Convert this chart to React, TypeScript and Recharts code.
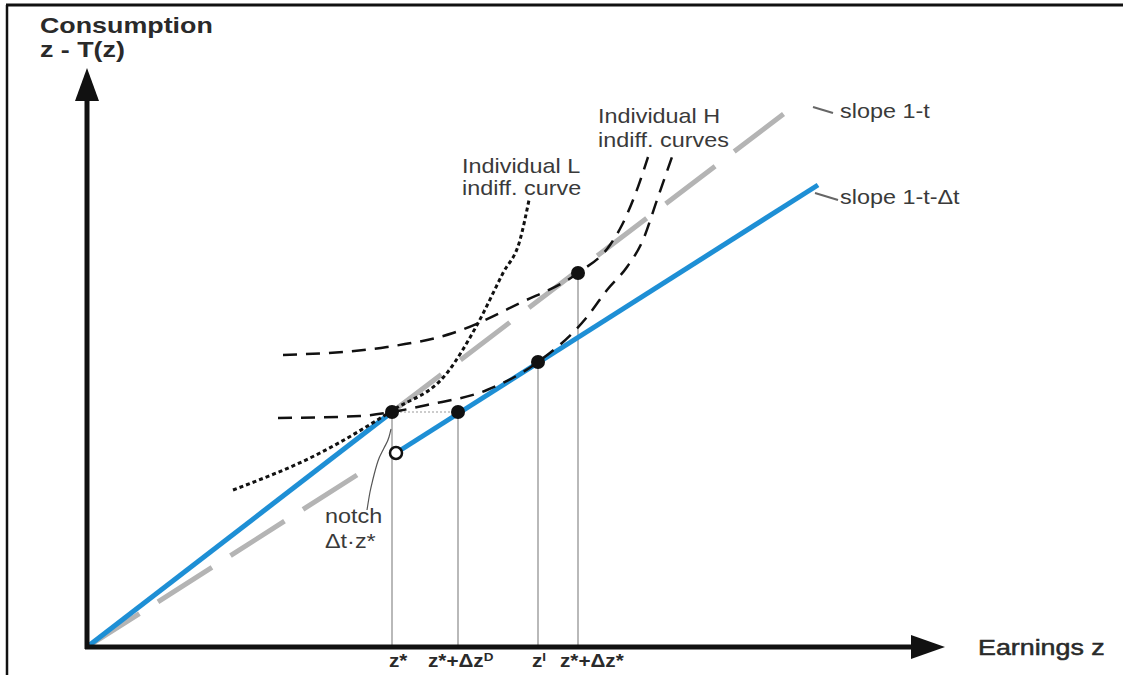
import { ComposedChart, Line, Scatter, XAxis, YAxis, ReferenceLine } from 'recharts';

// units: earnings z along x, consumption z - T(z) along y, origin at 0,0
const xDomain = [-87, 1036];
const yDomain = [-28, 647];

// marked earnings levels and their tick labels
const zLevels = [305, 371, 451, 491];
const zLabels = ['z*', 'z*+Δz^D', 'z^I', 'z*+Δz*'];
const zLabelStart = [302, 341, 445, 473];
// consumption at the marked points
const dotConsumption = [235, 235, 285, 374];

// budget line: slope 1-t up to z*, then slope 1-t-Δt after the notch
const budgetBelow = [
  { x: 0, y: 0 },
  { x: 305, y: 235 },
];
const budgetAbove = [
  { x: 309, y: 194 },
  { x: 731, y: 462 },
];
const notchPoint = [{ x: 309, y: 194 }];

// grey dashed extensions
const extLow = [
  { x: 270, y: 172 },
  { x: 0, y: 0 },
];
const extHigh = [
  { x: 305, y: 235 },
  { x: 715, y: 547 },
];

// indifference curves
const indiffL = [
  { x: 146, y: 157 },
  { x: 233, y: 194 },
  { x: 306, y: 237 },
  { x: 360, y: 274 },
  { x: 390, y: 322 },
  { x: 416, y: 374 },
  { x: 433, y: 407 },
  { x: 442, y: 447 },
];
const indiffH1 = [
  { x: 196, y: 292 },
  { x: 300, y: 300 },
  { x: 366, y: 314 },
  { x: 433, y: 344 },
  { x: 491, y: 374 },
  { x: 523, y: 402 },
  { x: 535, y: 422 },
  { x: 548, y: 452 },
  { x: 561, y: 490 },
];
const indiffH2 = [
  { x: 191, y: 229 },
  { x: 273, y: 231 },
  { x: 305, y: 235 },
  { x: 340, y: 242 },
  { x: 400, y: 257 },
  { x: 451, y: 285 },
  { x: 500, y: 330 },
  { x: 520, y: 357 },
  { x: 540, y: 380 },
  { x: 556, y: 407 },
  { x: 570, y: 447 },
  { x: 585, y: 490 },
];

// leader strokes for the notes
const notchLeader = [
  { x: 280, y: 137 },
  { x: 283, y: 155 },
  { x: 286, y: 168 },
  { x: 291, y: 186 },
  { x: 297, y: 199 },
  { x: 302, y: 210 },
  { x: 304, y: 218 },
];
const slopeLeader1 = [
  { x: 726, y: 540 },
  { x: 746, y: 534 },
];
const slopeLeader2 = [
  { x: 728, y: 454 },
  { x: 751, y: 447 },
];

const axisTitles = ['Consumption', 'z - T(z)', 'Earnings z'];
const curveNotes = [
  'Individual L',
  'indiff. curve',
  'Individual H',
  'indiff. curves',
  'slope 1-t',
  'slope 1-t-Δt',
  'notch',
  'Δt·z*',
];

const titleSpots = [
  { x: -47, y: 614, label: axisTitles[0], bold: true, size: 22 },
  { x: -47, y: 590, label: axisTitles[1], bold: true, size: 22 },
  { x: 891, y: -8, label: axisTitles[2], bold: false, size: 22, heavy: true },
];
const noteSpots = [
  { x: 375, y: 474, label: curveNotes[0] },
  { x: 375, y: 452, label: curveNotes[1] },
  { x: 511, y: 524, label: curveNotes[2] },
  { x: 511, y: 500, label: curveNotes[3] },
  { x: 753, y: 529, label: curveNotes[4] },
  { x: 753, y: 443, label: curveNotes[5] },
  { x: 238, y: 124, label: curveNotes[6] },
  { x: 238, y: 99, label: curveNotes[7] },
];
const tickSpots = zLabels.map((label, i) => ({ x: zLabelStart[i], y: -20, label }));
const dots = zLevels.map((x, i) => ({ x, y: dotConsumption[i] }));

const FONT = '"Liberation Sans", Arial, Helvetica, sans-serif';
const BLUE = '#1e8fd5';
const GREY = '#b4b4b4';
const INK = '#111';

function rich(label: string) {
  const parts = label.split('^');
  return parts.map((p, i) =>
    i === 0 ? (
      <tspan key={i}>{p}</tspan>
    ) : (
      [
        <tspan key={i + 's'} baselineShift="super" fontSize="65%">
          {p[0]}
        </tspan>,
        <tspan key={i + 'r'}>{p.slice(1)}</tspan>,
      ]
    ),
  );
}

const textShape = (size: number, bold: boolean, sx: number, fill: string) => (props: any) => {
  const { cx, cy, payload } = props;
  const b = payload.bold ?? bold;
  const s = payload.size ?? size;
  return (
    <text
      transform={`translate(${cx},${cy}) scale(${sx},1)`}
      fontFamily={FONT}
      fontSize={s}
      fontWeight={b ? 'bold' : 'normal'}
      fill={fill}
      stroke={payload.heavy ? fill : 'none'}
      strokeWidth={payload.heavy ? 0.5 : 0}
    >
      {rich(payload.label)}
    </text>
  );
};

const upArrow = (props: any) => {
  const { cx, cy } = props;
  return <polygon points={`${cx},${cy} ${cx - 12},${cy + 33} ${cx + 12},${cy + 33}`} fill={INK} />;
};
const rightArrow = (props: any) => {
  const { cx, cy } = props;
  return <polygon points={`${cx},${cy} ${cx - 34},${cy - 12} ${cx - 34},${cy + 12}`} fill={INK} />;
};
const filledDot = (props: any) => <circle cx={props.cx} cy={props.cy} r={7} fill={INK} />;
const openDot = (props: any) => (
  <circle cx={props.cx} cy={props.cy} r={6} fill="#fff" stroke={INK} strokeWidth={2.5} />
);

export default function App() {
  return (
    <div style={{ position: 'absolute', left: 0, top: 0, width: 1123, height: 675, background: '#fff' }}>
      <ComposedChart width={1123} height={675} margin={{ top: 0, right: 0, bottom: 0, left: 0 }}>
        <XAxis dataKey="x" type="number" domain={xDomain} hide allowDataOverflow />
        <YAxis dataKey="y" type="number" domain={yDomain} hide allowDataOverflow />

        {/* frame */}
        <ReferenceLine segment={[{ x: -80, y: -28 }, { x: -80, y: 642 }]} stroke={INK} strokeWidth={2.5} />
        <ReferenceLine segment={[{ x: -81, y: 642 }, { x: 1036, y: 642 }]} stroke={INK} strokeWidth={3} />

        {/* drop lines */}
        {zLevels.map((z, i) => (
          <ReferenceLine
            key={z}
            segment={[{ x: z, y: 0 }, { x: z, y: dotConsumption[i] }]}
            stroke="#8a8a8a"
            strokeWidth={1.2}
          />
        ))}
        <ReferenceLine
          segment={[{ x: zLevels[0], y: dotConsumption[0] }, { x: zLevels[1], y: dotConsumption[1] }]}
          stroke="#999"
          strokeWidth={1.2}
          strokeDasharray="2 2"
        />

        <Line data={extLow} dataKey="y" stroke={GREY} strokeWidth={5} strokeDasharray="64 22" dot={false} isAnimationActive={false} />
        <Line data={extHigh} dataKey="y" stroke={GREY} strokeWidth={5} strokeDasharray="62 24" dot={false} isAnimationActive={false} />

        <Line data={budgetBelow} dataKey="y" stroke={BLUE} strokeWidth={5} dot={false} isAnimationActive={false} />
        <Line data={budgetAbove} dataKey="y" stroke={BLUE} strokeWidth={5} dot={false} isAnimationActive={false} />

        <Line data={indiffL} dataKey="y" type="monotone" stroke={INK} strokeWidth={3} strokeDasharray="4 3" dot={false} isAnimationActive={false} />
        <Line data={indiffH1} dataKey="y" type="monotone" stroke={INK} strokeWidth={2.5} strokeDasharray="14 9" dot={false} isAnimationActive={false} />
        <Line data={indiffH2} dataKey="y" type="monotone" stroke={INK} strokeWidth={2.5} strokeDasharray="14 9" dot={false} isAnimationActive={false} />

        <Line data={notchLeader} dataKey="y" type="monotone" stroke="#555" strokeWidth={1.2} dot={false} isAnimationActive={false} />
        <Line data={slopeLeader1} dataKey="y" stroke="#666" strokeWidth={2} dot={false} isAnimationActive={false} />
        <Line data={slopeLeader2} dataKey="y" stroke="#666" strokeWidth={2} dot={false} isAnimationActive={false} />

        {/* axes */}
        <ReferenceLine segment={[{ x: 0, y: -2 }, { x: 0, y: 550 }]} stroke={INK} strokeWidth={5} />
        <ReferenceLine segment={[{ x: -2, y: 0 }, { x: 826, y: 0 }]} stroke={INK} strokeWidth={5} />
        <Scatter data={[{ x: 0, y: 579 }]} shape={upArrow} isAnimationActive={false} />
        <Scatter data={[{ x: 858, y: 0 }]} shape={rightArrow} isAnimationActive={false} />

        <Scatter data={dots} shape={filledDot} isAnimationActive={false} />
        <Scatter data={notchPoint} shape={openDot} isAnimationActive={false} />

        <Scatter data={titleSpots} shape={textShape(22, true, 1.22, '#2a2a2a')} isAnimationActive={false} />
        <Scatter data={noteSpots} shape={textShape(20, false, 1.17, '#3a3a3a')} isAnimationActive={false} />
        <Scatter data={tickSpots} shape={textShape(18, true, 1.15, '#2a2a2a')} isAnimationActive={false} />
      </ComposedChart>
    </div>
  );
}
